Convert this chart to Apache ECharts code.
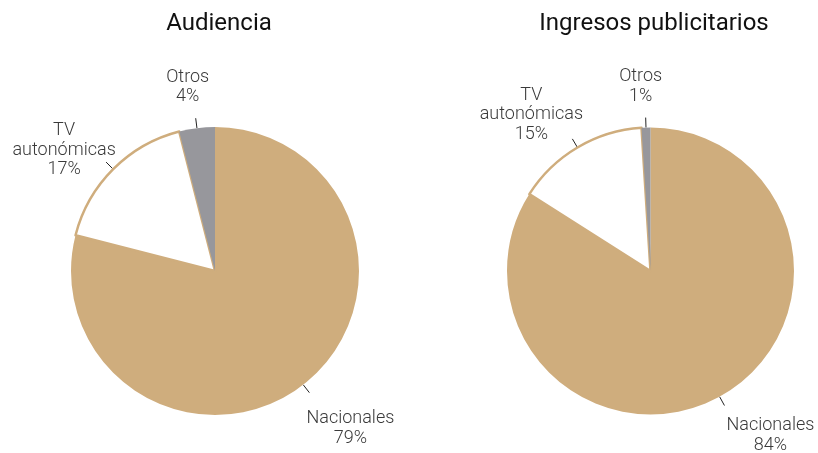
<!DOCTYPE html>
<html>
<head>
<meta charset="utf-8">
<script src="https://cdn.jsdelivr.net/npm/echarts@6/dist/echarts.min.js"></script>
<style>
  html, body { margin: 0; padding: 0; background: #fff; }
  #chart { width: 818px; height: 453px; }
</style>
</head>
<body>
<div id="chart"></div>
<script>
// datos (%)
const categories = ['Nacionales', 'TV autonómicas', 'Otros']
const audiencia = [79, 17, 4]
const ingresos = [84, 15, 1]
const titles = ['Audiencia', 'Ingresos publicitarios']

const TAN = '#cfad7d'
const GRAY = '#97979c'

// desplazamiento del texto respecto al final de la línea guía
const labelOffsets = [
	[[41, 36], [-42, -12], [-8, -31]],
	[[46, 30], [-41, -24], [-5, -31]],
]

function sliceData(values) {
	return values.map((v, i) => ({
		name: categories[i],
		value: v,
		itemStyle: i === 1
			? { color: '#fff', borderColor: TAN, borderWidth: 2.5 }
			: { color: i === 0 ? TAN : GRAY, borderWidth: 0 },
	}))
}

function makeLayout(offsets) {
	return (params) => {
		const pts = params.labelLinePoints
		if (!pts) return {}
		const p0 = pts[0], p1 = pts[1]
		const off = offsets[params.dataIndex]
		return {
			x: p1[0] + off[0],
			y: p1[1] + off[1],
			align: 'center',
			verticalAlign: 'middle',
			labelLinePoints: [p0, p1, p1],
		}
	}
}

function pieSeries(values, center, radius, offsets) {
	return {
		type: 'pie',
		center,
		radius,
		startAngle: 90,
		clockwise: true,
		silent: true,
		avoidLabelOverlap: false,
		data: sliceData(values),
		label: {
			show: true,
			position: 'outside',
			overflow: 'none',
			formatter: (p) => p.name.replace(' ', '\n') + '\n' + p.value + '%',
			fontFamily: 'Roboto',
			fontWeight: 300,
			fontSize: 18,
			lineHeight: 19.5,
			color: '#3a3a3a',
			align: 'center',
		},
		labelLine: {
			show: true,
			length: 10,
			length2: 0,
			lineStyle: { color: '#222', width: 1 },
		},
		labelLayout: makeLayout(offsets),
	}
}

const titleStyle = { fontFamily: 'Roboto', fontSize: 24, fontWeight: 'normal', color: '#111' }

const chart = echarts.init(document.getElementById('chart'))
chart.setOption({
	animation: false,
	title: [
		{ text: titles[0], left: 219, top: 12, textAlign: 'center', padding: 0, textStyle: titleStyle },
		{ text: titles[1], left: 654, top: 12, textAlign: 'center', padding: 0, textStyle: titleStyle },
	],
	series: [
		pieSeries(audiencia, [215, 271], 144, labelOffsets[0]),
		pieSeries(ingresos, [650.5, 271], 143.5, labelOffsets[1]),
	],
})
</script>
</body>
</html>
